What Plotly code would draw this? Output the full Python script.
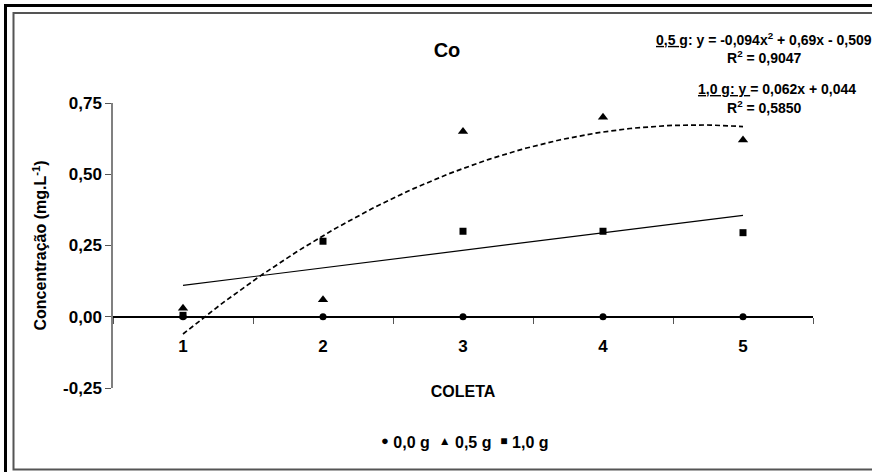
import numpy as np
import plotly.graph_objects as go

# ---- data ----
coleta = [1, 2, 3, 4, 5]
s00 = [0.0, 0.0, 0.0, 0.0, 0.0]
s05 = [0.03, 0.06, 0.65, 0.70, 0.62]
s10 = [0.005, 0.265, 0.30, 0.30, 0.295]
series_names = ["0,0 g", "0,5 g", "1,0 g"]
ytick_vals = [-0.25, 0.0, 0.25, 0.50, 0.75]
ytick_text = ["-0,25", "0,00", "0,25", "0,50", "0,75"]
eq05 = "<u>0,5 g</u>: y = -0,094x<sup>2</sup> + 0,69x - 0,509"
r05 = "R<sup>2</sup> = 0,9047"
eq10 = "<u>1,0 g: y </u>= 0,062x + 0,044"
r10 = "R<sup>2</sup> = 0,5850"

FONT = "Liberation Sans, Arial, sans-serif"

# plot area in px
L, R, T, B = 113, 813, 103, 388
W, H = 872, 472


def px(x):
    return (x - L) / (R - L)


def py(y):
    return (B - y) / (B - T)


# trend lines (least squares fits of the plotted data)
xs = np.linspace(1, 5, 120)
c2 = np.polyfit(coleta, s05, 2)
c1 = np.polyfit(coleta, s10, 1)

fig = go.Figure()
fig.add_trace(go.Scatter(x=xs, y=np.polyval(c2, xs), mode="lines",
                         line=dict(color="black", width=1.7, dash="5px,3px"),
                         showlegend=False, hoverinfo="skip"))
fig.add_trace(go.Scatter(x=xs, y=np.polyval(c1, xs), mode="lines",
                         line=dict(color="black", width=1.2),
                         showlegend=False, hoverinfo="skip"))
fig.add_trace(go.Scatter(x=coleta, y=s00, mode="markers", name=series_names[0],
                         showlegend=False,
                         marker=dict(symbol="circle", size=7, color="black")))
fig.add_trace(go.Scatter(x=coleta, y=s05, mode="markers", name=series_names[1],
                         showlegend=False,
                         marker=dict(symbol="triangle-up", size=9, color="black")))
fig.add_trace(go.Scatter(x=coleta, y=s10, mode="markers", name=series_names[2],
                         showlegend=False,
                         marker=dict(symbol="square", size=7, color="black")))

shapes = [
    # outer thick frame
    dict(type="rect", xref="paper", yref="paper",
         x0=px(5.5), x1=px(890), y0=py(5.5), y1=py(490),
         line=dict(color="black", width=3), fillcolor="rgba(0,0,0,0)", layer="below"),
    # inner thin frame
    dict(type="rect", xref="paper", yref="paper",
         x0=px(13.5), x1=px(890), y0=py(13), y1=py(469.5),
         line=dict(color="#555555", width=2), fillcolor="rgba(0,0,0,0)", layer="below"),
]

sym = '<span style="font-size:{s}px;baseline-shift:{b}px">{g}</span>'
legend_text = ("<b>" + sym.format(s=13, b=3, g="●") + " " + series_names[0] + "  "
               + sym.format(s=12, b=3, g="▲") + " " + series_names[1] + "  "
               + sym.format(s=12, b=3, g="■") + " " + series_names[2] + "</b>")

annotations = [
    dict(text="<b>" + eq05 + "</b>", x=px(764), y=py(39), xref="paper", yref="paper",
         xanchor="center", yanchor="middle", showarrow=False,
         font=dict(family=FONT, size=14, color="black")),
    dict(text="<b>" + r05 + "</b>", x=px(764), y=py(57), xref="paper", yref="paper",
         xanchor="center", yanchor="middle", showarrow=False,
         font=dict(family=FONT, size=14, color="black")),
    dict(text="<b>" + eq10 + "</b>", x=px(777), y=py(89), xref="paper", yref="paper",
         xanchor="center", yanchor="middle", showarrow=False,
         font=dict(family=FONT, size=14, color="black")),
    dict(text="<b>" + r10 + "</b>", x=px(764), y=py(107), xref="paper", yref="paper",
         xanchor="center", yanchor="middle", showarrow=False,
         font=dict(family=FONT, size=14, color="black")),
    dict(text=legend_text, x=px(465), y=py(442), xref="paper", yref="paper",
         xanchor="center", yanchor="middle", showarrow=False,
         font=dict(family=FONT, size=16, color="black")),
]

fig.update_layout(
    width=W, height=H,
    margin=dict(l=L, r=W - R, t=T, b=H - B, pad=0),
    paper_bgcolor="white", plot_bgcolor="white",
    font=dict(family=FONT, color="black"),
    title=dict(text="<b>Co</b>", x=px(447), y=1 - 50 / H, xanchor="center", yanchor="middle",
               xref="paper", yref="container",
               font=dict(family=FONT, size=20, color="black")),
    showlegend=False,
    shapes=shapes,
    annotations=annotations,
)

fig.update_xaxes(
    range=[0.5, 5.5], anchor="free", position=0.25,
    showline=True, linecolor="black", linewidth=1.5,
    tickmode="array", tickvals=coleta, ticktext=[str(c) for c in coleta],
    ticks="", ticklabelstandoff=14,
    minor=dict(tickmode="array", tickvals=[0.5, 1.5, 2.5, 3.5, 4.5, 5.5],
               ticks="outside", ticklen=6, tickcolor="#555555", tickwidth=1),
    tickfont=dict(family=FONT, size=17, color="black", weight="bold"),
    showgrid=False, zeroline=False,
    title=dict(text="<b>COLETA</b>", standoff=30, font=dict(family=FONT, size=16, color="black")),
)
fig.update_yaxes(
    range=[-0.25, 0.75],
    showline=True, linecolor="#808080", linewidth=1.5,
    tickmode="array", tickvals=ytick_vals, ticktext=ytick_text,
    ticks="outside", ticklen=6, tickcolor="#555555", tickwidth=1,
    tickfont=dict(family=FONT, size=17, color="black", weight="bold"),
    showgrid=False, zeroline=False,
    title=dict(text="<b>Concentração (mg.L<sup>-1</sup>)</b>", standoff=12,
               font=dict(family=FONT, size=16, color="black")),
)

fig.write_html("out.html")
